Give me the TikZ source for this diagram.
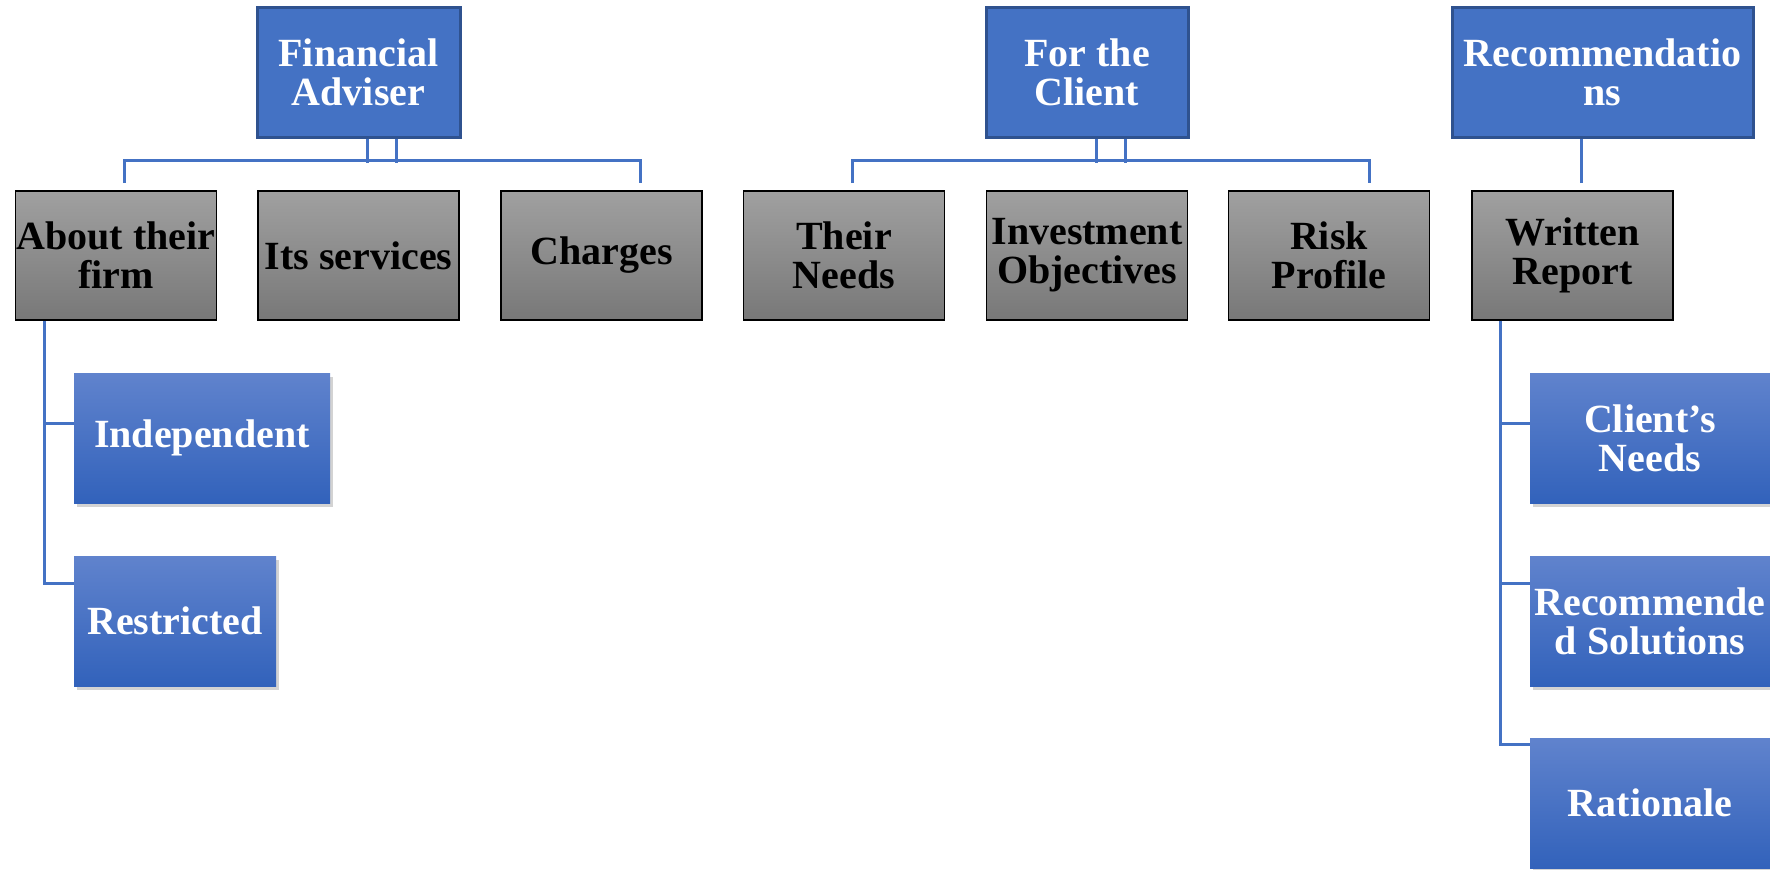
\documentclass[tikz,border=0pt]{standalone}
\usepackage{fontspec}
\setmainfont{Liberation Serif}
\usetikzlibrary{shadows}
\definecolor{headblue}{HTML}{4472C4}
\definecolor{headline}{HTML}{2F528F}
\definecolor{leaftop}{HTML}{6083CD}
\definecolor{leafbot}{HTML}{3262BB}
\definecolor{subtop}{HTML}{A0A0A0}
\definecolor{subbot}{HTML}{787878}

\begin{document}
\begin{tikzpicture}[x=0.5pt,y=-0.5pt,
    every node/.style={inner sep=0pt,align=center,font=\bfseries\fontsize{20}{19.5}\selectfont},
    head/.style={draw=headline,line width=1.5pt,fill=headblue,text=white,minimum height=65pt},
    sub/.style={draw=black,line width=0.9pt,top color=subtop,bottom color=subbot,minimum width=100.5pt,minimum height=64.5pt},
    leaf/.style={top color=leaftop,bottom color=leafbot,text=white,minimum height=65pt,
      drop shadow={opacity=0.35,shadow xshift=1.5pt,shadow yshift=-2pt}},
    link/.style={draw=headblue,line width=1.5pt}]
    \clip (0,0) rectangle (1770,869);

    \node[head,minimum width=101.5pt] (fa) at (358.5,72) {Financial\\Adviser};
    \node[head,minimum width=101pt] (ftc) at (1087,72) {For the\\Client};
    \node[head,minimum width=150.5pt] (rec) at (1602.5,72) {Recommendatio\\ns};

    \node[sub] (firm) at (116,255.5) {About their\\firm};
    \node[sub] (serv) at (358.5,255.5) {Its services};
    \node[sub] (chg) at (601.5,255.5) {Charges};
    \node[sub] (needs) at (844,255.5) {Their\\Needs};
    \node[sub] (obj) at (1087,255.5) {Investment\\Objectives};
    \node[sub] (risk) at (1329,255.5) {Risk\\Profile};
    \node[sub] (rep) at (1572.5,255.5) {Written\\Report};

    \node[leaf,minimum width=128pt] (ind) at (202,438) {Independent};
    \node[leaf,minimum width=101pt] (res) at (175,621) {Restricted};
    \node[leaf,minimum width=120pt] (cn) at (1650,438) {Client’s\\Needs};
    \node[leaf,minimum width=120pt] (rs) at (1650,621) {Recommende\\d Solutions};
    \node[leaf,minimum width=120pt] (rat) at (1650,803) {Rationale};

    \draw[link] ([xshift=4.25pt]fa.south) -- ++(0,24);
    \draw[link] ([xshift=18.75pt]fa.south) -- ++(0,24);
    \draw[link] ([xshift=4pt,yshift=3.5pt]firm.north) |- ([xshift=19.5pt,yshift=15pt]chg.north) -- ([xshift=19.5pt,yshift=3.5pt]chg.north);

    \draw[link] ([xshift=4.5pt]ftc.south) -- ++(0,24);
    \draw[link] ([xshift=19.3pt]ftc.south) -- ++(0,24);
    \draw[link] ([xshift=4.35pt,yshift=3.5pt]needs.north) |- ([xshift=20pt,yshift=15pt]risk.north) -- ([xshift=20pt,yshift=3.5pt]risk.north);

    \coordinate (repjoin) at ([xshift=4.6pt,yshift=3.5pt]rep.north);
    \draw[link] (repjoin) -- (repjoin |- rec.south);

    \draw[link] ([xshift=-36pt]firm.south) |- ([yshift=7.5pt]ind.west);
    \draw[link] ([xshift=-36pt]firm.south) |- ([yshift=19pt]res.west);

    \draw[link] ([xshift=-36.25pt]rep.south) |- ([yshift=7.5pt]cn.west);
    \draw[link] ([xshift=-36.25pt]rep.south) |- ([yshift=19pt]rs.west);
    \draw[link] ([xshift=-36.25pt]rep.south) |- ([yshift=29.5pt]rat.west);
\end{tikzpicture}
\end{document}
